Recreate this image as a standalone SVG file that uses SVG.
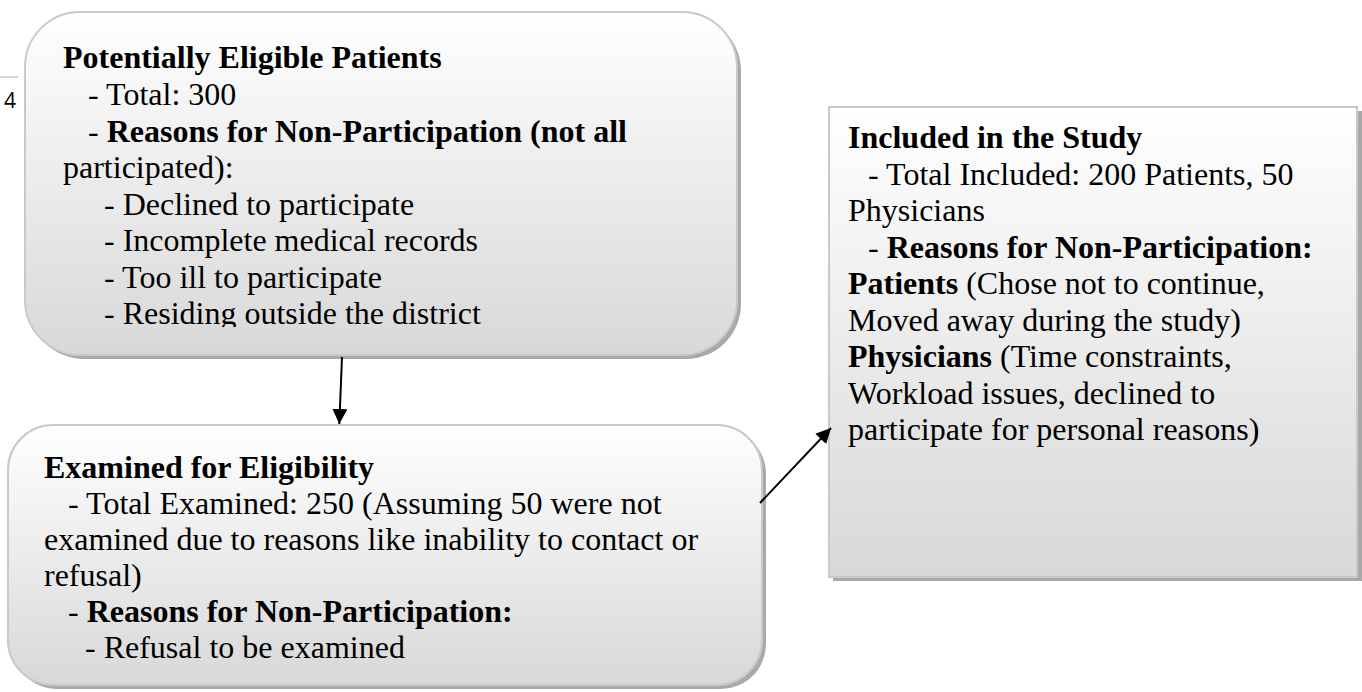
<svg xmlns="http://www.w3.org/2000/svg" width="1362" height="692" viewBox="0 0 1362 692">
  <style>
    .t { font-family: "Liberation Serif", "Times New Roman", serif; font-size: 32px; fill: #000; }
    .b { font-weight: bold; }
    .box { stroke: #c9c9c9; stroke-width: 2; }
    .shadow { fill: #a9a9a9; }
    .edge { stroke: #000; stroke-width: 2; fill: none; }
  </style>
  <defs>
    <linearGradient id="boxFill" x1="0" y1="0" x2="0" y2="1">
      <stop offset="0" stop-color="#ffffff"/>
      <stop offset="1" stop-color="#d8d8d8"/>
    </linearGradient>
    <marker id="arrow" viewBox="0 0 10 10" refX="10" refY="5" markerWidth="7.5" markerHeight="7.5" markerUnits="strokeWidth" orient="auto">
      <path d="M0,0 L10,5 L0,10 z" fill="#000"/>
    </marker>
    <clipPath id="clip1">
      <rect x="25" y="12" width="712" height="315"/>
    </clipPath>
  </defs>

  <rect width="1362" height="692" fill="#ffffff"/>

  <!-- page margin marks -->
  <g id="page">
    <line x1="0" y1="77" x2="18" y2="77" stroke="#c8c8c8" stroke-width="1.5"/>
    <text x="4" y="108" font-family="'Open Sans', 'Liberation Sans', sans-serif" font-size="21" fill="#000">4</text>
  </g>

  <!-- Potentially Eligible Patients -->
  <g id="node-eligible">
    <rect class="shadow" x="29" y="16" width="712" height="343" rx="55"/>
    <rect class="box" x="25" y="12" width="712" height="343" rx="55" fill="url(#boxFill)"/>
    <g clip-path="url(#clip1)" class="t">
      <text x="63" y="68" class="b">Potentially Eligible Patients</text>
      <text x="88" y="105">- Total: 300</text>
      <text x="88" y="141.5">- <tspan class="b">Reasons for Non-Participation (not all</tspan></text>
      <text x="63" y="178">participated):</text>
      <text x="104" y="214.5">- Declined to participate</text>
      <text x="104" y="251">- Incomplete medical records</text>
      <text x="104" y="287.5">- Too ill to participate</text>
      <text x="104" y="324">- Residing outside the district</text>
    </g>
  </g>

  <!-- Examined for Eligibility -->
  <g id="node-examined">
    <rect class="shadow" x="12" y="429" width="754" height="260" rx="45"/>
    <rect class="box" x="8" y="425" width="754" height="260" rx="45" fill="url(#boxFill)"/>
    <g class="t">
      <text x="44" y="478" class="b">Examined for Eligibility</text>
      <text x="68" y="514">- Total Examined: 250 (Assuming 50 were not</text>
      <text x="44" y="550">examined due to reasons like inability to contact or</text>
      <text x="44" y="586">refusal)</text>
      <text x="68" y="622">- <tspan class="b">Reasons for Non-Participation:</tspan></text>
      <text x="85" y="658">- Refusal to be examined</text>
    </g>
  </g>

  <!-- Included in the Study -->
  <g id="node-included">
    <rect class="shadow" x="833" y="111" width="529" height="470"/>
    <rect class="box" x="829" y="107" width="528" height="470" fill="url(#boxFill)"/>
    <g class="t">
      <text x="848" y="148" class="b">Included in the Study</text>
      <text x="868" y="184.5">- Total Included: 200 Patients, 50</text>
      <text x="848" y="221">Physicians</text>
      <text x="868" y="257.5">- <tspan class="b">Reasons for Non-Participation:</tspan></text>
      <text x="848" y="294"><tspan class="b">Patients</tspan> (Chose not to continue,</text>
      <text x="848" y="330.5">Moved away during the study)</text>
      <text x="848" y="367"><tspan class="b">Physicians</tspan> (Time constraints,</text>
      <text x="848" y="403.5">Workload issues, declined to</text>
      <text x="848" y="440">participate for personal reasons)</text>
    </g>
  </g>

  <!-- connectors -->
  <g id="connectors">
    <line class="edge" x1="342" y1="357" x2="339.3" y2="424" marker-end="url(#arrow)"/>
    <line class="edge" x1="760" y1="503" x2="831" y2="428" marker-end="url(#arrow)"/>
  </g>
</svg>
